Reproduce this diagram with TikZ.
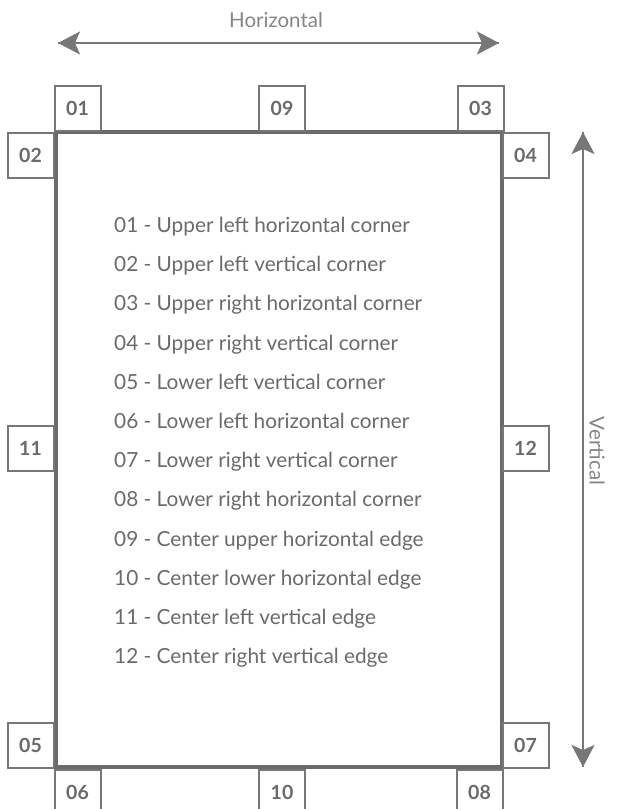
\documentclass[tikz,border=0pt]{standalone}
\usepackage{fontspec}
\setmainfont{Lato}
\usepackage{tikz}
\usetikzlibrary{arrows.meta}
\definecolor{inkgray}{HTML}{6A6A6A}
\definecolor{linegray}{HTML}{777777}
\tikzstyle{numbox}=[draw=linegray,line width=2pt,fill=white,minimum width=46pt,minimum height=45pt,inner sep=0pt,text=inkgray,font=\fontsize{19.5}{22}\selectfont\bfseries]
\tikzstyle{legend}=[anchor=base west,inner sep=0pt,text=inkgray,font=\fontsize{20.8}{24}\selectfont]
\tikzstyle{axis}=[draw=linegray,line width=2pt,-{Stealth[length=22pt,width=23pt,inset=5pt]}]
\tikzstyle{axislabel}=[inner sep=0pt,text=linegray!90,font=\fontsize{20.5}{24}\selectfont]

\begin{document}
\begin{tikzpicture}[x=1pt,y=-1pt]
\useasboundingbox (0,0) rectangle (617,809);
% sheet
\node[draw=inkgray,line width=4.5pt,minimum width=446pt,minimum height=635pt,inner sep=0pt] (sheet) at (279,449.5) {};

% corner and edge boxes
\node[numbox] (b01) at (77.5,108) {01};
\node[numbox] (b09) at (282,108) {09};
\node[numbox] (b03) at (480.5,108) {03};
\node[numbox] (b02) at (30.5,155) {02};
\node[numbox] (b04) at (525.5,155) {04};
\node[numbox] (b11) at (30.5,448) {11};
\node[numbox] (b12) at (525.5,448) {12};
\node[numbox] (b05) at (30.5,745.5) {05};
\node[numbox] (b07) at (525.5,745.5) {07};
\node[numbox] (b06) at (77.5,792) {06};
\node[numbox] (b10) at (282,792) {10};
\node[numbox] (b08) at (479.5,792) {08};

% legend
\node[legend] (l01) at (114,232.5) {01 - Upper left horizontal corner};
\node[legend] (l02) at (114,271.7) {02 - Upper left vertical corner};
\node[legend] (l03) at (114,310.9) {03 - Upper right horizontal corner};
\node[legend] (l04) at (114,350.1) {04 - Upper right vertical corner};
\node[legend] (l05) at (114,389.3) {05 - Lower left vertical corner};
\node[legend] (l06) at (114,428.5) {06 - Lower left horizontal corner};
\node[legend] (l07) at (114,467.7) {07 - Lower right vertical corner};
\node[legend] (l08) at (114,506.9) {08 - Lower right horizontal corner};
\node[legend] (l09) at (114,546.1) {09 - Center upper horizontal edge};
\node[legend] (l10) at (114,585.3) {10 - Center lower horizontal edge};
\node[legend] (l11) at (114,624.5) {11 - Center left vertical edge};
\node[legend] (l12) at (114,663.7) {12 - Center right vertical edge};

% axes
\coordinate (hl) at (58,43);
\coordinate (hr) at (499,43);
\coordinate (vt) at (583,132);
\coordinate (vb) at (583,767);
\draw[axis] (hl) -- (hr);
\draw[axis] (hr) -- (hl);
\draw[axis] (vt) -- (vb);
\draw[axis] (vb) -- (vt);
\node[axislabel] (htext) at (276,20) {Horizontal};
\node[axislabel,rotate=-90] (vtext) at (597,451) {Vertical};
\end{tikzpicture}
\end{document}
